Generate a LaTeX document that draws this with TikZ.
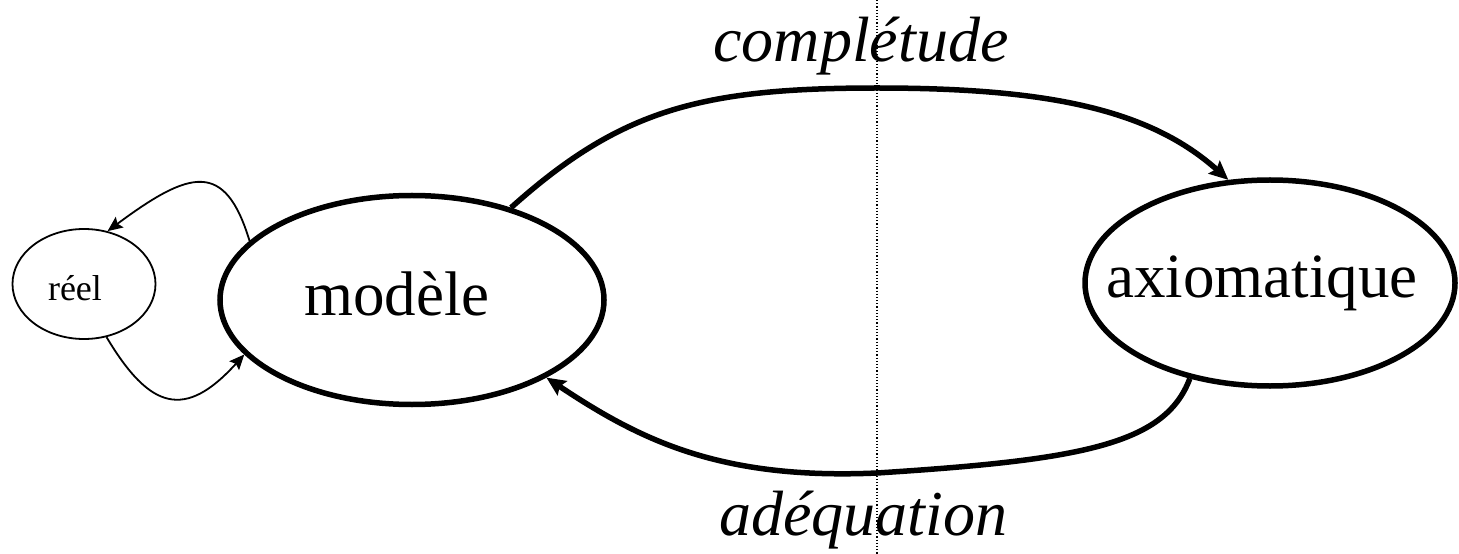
\documentclass[tikz,border=0pt]{standalone}
\usepackage{fontspec}
\setmainfont{Liberation Serif}
\usetikzlibrary{shapes.geometric,arrows.meta}
\begin{document}
\begin{tikzpicture}[x=1bp,y=-1bp,
  bigell/.style={draw, ellipse, line width=5.5bp, inner sep=0pt},
  smallell/.style={draw, ellipse, line width=1.8bp, inner sep=0pt},
  bigtxt/.style={font=\fontsize{63bp}{70bp}\selectfont, inner sep=0pt, anchor=base},
  smalltxt/.style={font=\fontsize{36bp}{40bp}\selectfont, inner sep=0pt, anchor=base},
  italtxt/.style={font=\fontsize{64bp}{70bp}\selectfont\itshape, inner sep=0pt, anchor=base},
  thickarrow/.style={line width=5.5bp, -{Stealth[length=19bp,width=17bp,inset=3bp]}},
  thinarrow/.style={line width=1.8bp, -{Stealth[length=15bp,width=13bp,inset=2.5bp]}},
  guide/.style={dotted, line width=1.2bp, black}
]
\useasboundingbox (0,0) rectangle (1459,554);
\coordinate (gtop) at (877,0);
\coordinate (gbot) at (877,554);
\draw[guide] (gtop) -- (gbot);

\node[smallell, minimum width=143bp, minimum height=110bp] (reel) at (84,284) {};
\node[smalltxt] (reeltxt) at (75,300) {réel};
\node[bigell, minimum width=384bp, minimum height=209bp] (modele) at (412,300) {};
\node[bigtxt] (modeletxt) at (397,315) {modèle};
\node[bigell, minimum width=370bp, minimum height=206bp] (axio) at (1270,283) {};
\node[bigtxt] (axiotxt) at (1262,297) {axiomatique};
\node[italtxt] (compl) at (861,62) {complétude};
\node[italtxt] (adeq) at (863,535) {adéquation};

\draw[thickarrow] (modele.43) .. controls (620,110) and (700,88) .. (877,88)
  .. controls (1050,88) and (1150,110) .. (axio.112);
\draw[thickarrow] (axio.230) .. controls (1165,445) and (1080,460) .. (877,473)
  .. controls (720,480) and (640,440) .. (modele.-30);
\draw[thinarrow] (modele.160) .. controls (225,160) and (190,170) .. (reel.66);
\draw[thinarrow] (reel.-67) .. controls (150,410) and (185,420) .. (modele.198);
\end{tikzpicture}
\end{document}
